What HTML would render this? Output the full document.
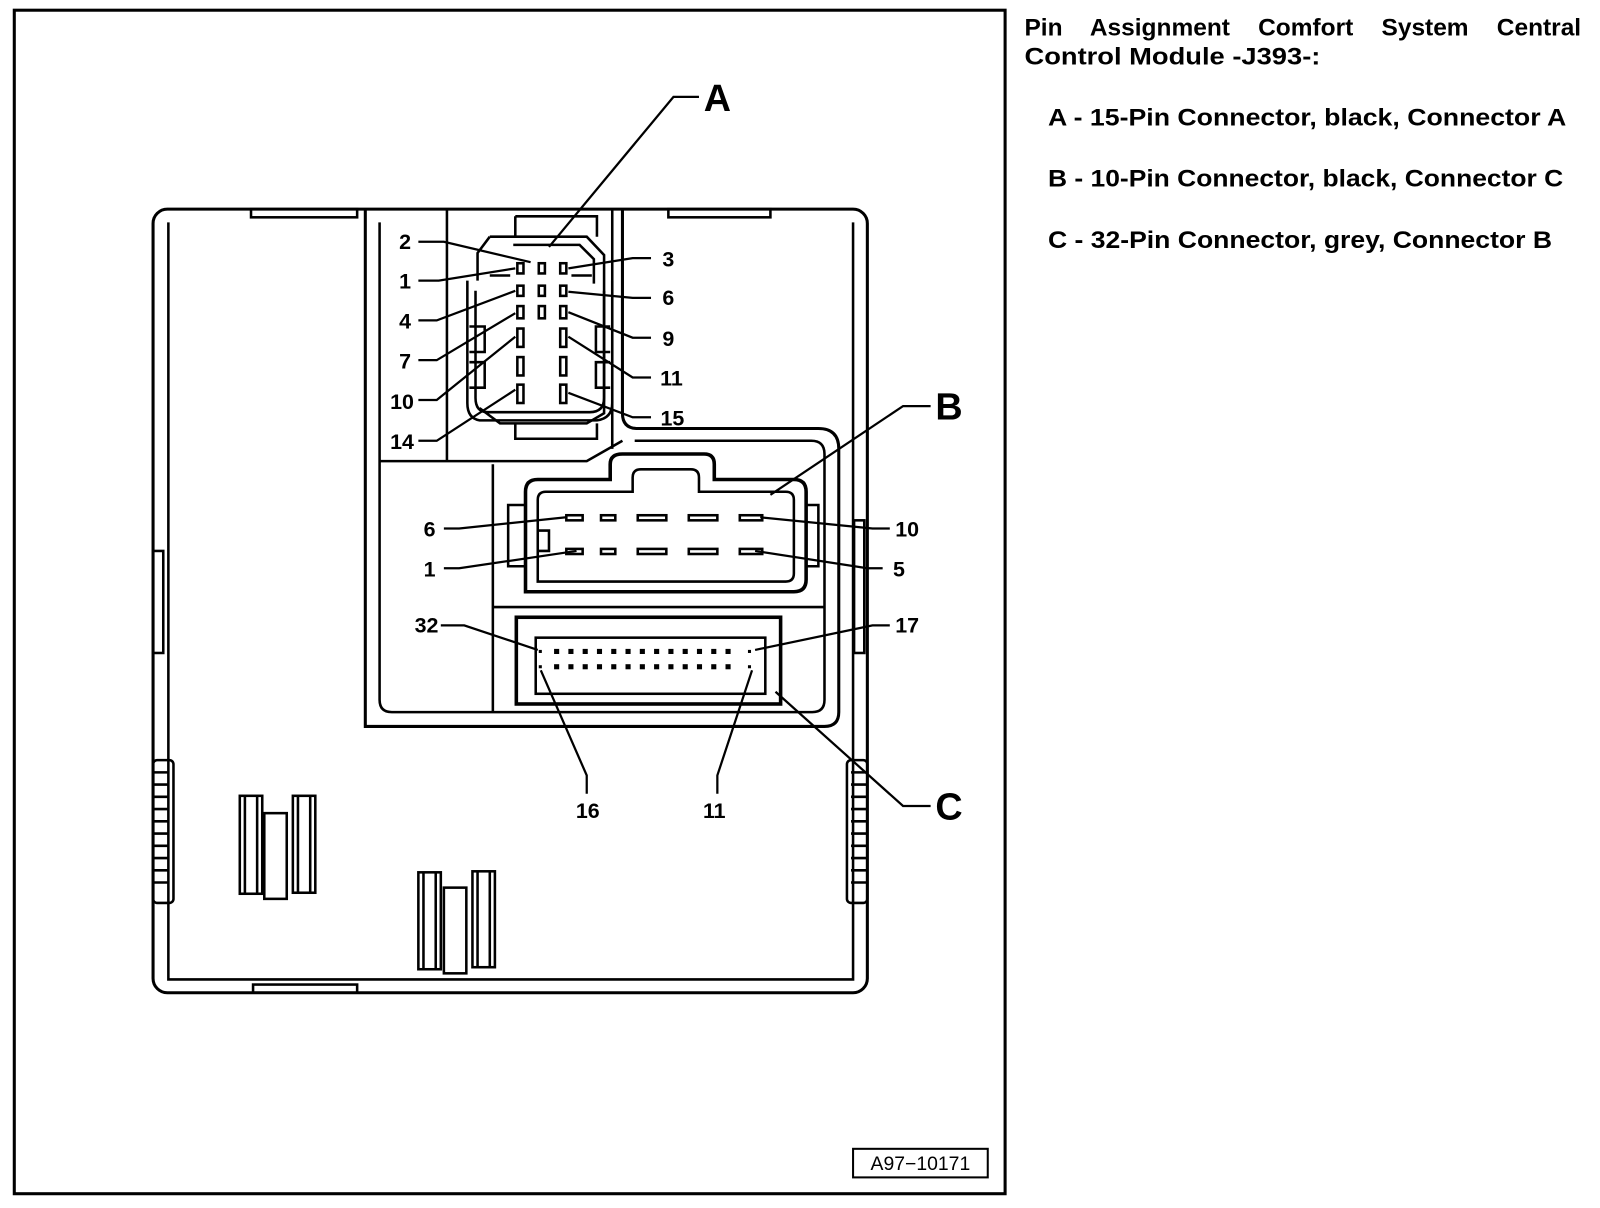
<!DOCTYPE html>
<html><head><meta charset="utf-8"><style>
html,body{margin:0;padding:0;background:#fff;width:1600px;height:1208px;overflow:hidden}
svg{display:block}
text{font-family:"Liberation Sans",sans-serif;font-weight:bold;fill:#000}
</style></head><body>
<svg width="1600" height="1208" viewBox="0 0 1568 1184" preserveAspectRatio="none" xmlns="http://www.w3.org/2000/svg">
<g fill="none" stroke="#000" stroke-width="2.5">
<rect x="14" y="10" width="971" height="1160" stroke-width="3"/>
<rect x="836" y="1126" width="132" height="28" stroke-width="2"/>
<rect x="150" y="205" width="700" height="768" rx="14" stroke-width="3"/>
<path d="M165 218 V960 H836 V218"/>
<rect x="246" y="205" width="104" height="8"/>
<rect x="655" y="205" width="100" height="8"/>
<rect x="248" y="965" width="102" height="8"/>
<rect x="150" y="540" width="10" height="100"/>
<rect x="837" y="510" width="10" height="130"/>
<rect x="150" y="745" width="20" height="140" rx="4"/>
<path d="M150 757H166M150 769H166M150 781H166M150 793H166M150 805H166M150 817H166M150 829H166M150 841H166M150 853H166M150 865H166"/>
<rect x="830" y="745" width="20" height="140" rx="4"/>
<path d="M834 757H850M834 769H850M834 781H850M834 793H850M834 805H850M834 817H850M834 829H850M834 841H850M834 853H850M834 865H850"/>
<rect x="235" y="780" width="22" height="96"/><path d="M240 780V876M252 780V876"/>
<rect x="259" y="797" width="22" height="84"/>
<rect x="287" y="780" width="22" height="95"/><path d="M292 780V875M304 780V875"/>
<rect x="410" y="855" width="22" height="95"/><path d="M415 855V950M427 855V950"/>
<rect x="435" y="870" width="22" height="84"/>
<rect x="463" y="854" width="22" height="94"/><path d="M468 854V948M480 854V948"/>
<path d="M358 205 V712 H808 Q822 712 822 698 V440 Q822 420 802 420 H625 Q610 420 610 405 V205" stroke-width="3"/>
<path d="M372 218 V686 Q372 698 384 698 H796 Q808 698 808 686 V445 Q808 432 795 432 H622"/>
<path d="M438 205 V452 M600 205 V440"/>
<path d="M372 452 H575 L610 432"/>
<path d="M483 455 V698 M483 595 H808"/>
<path d="M505 212 H585 V232 M505 212 V232 M505 415 V430 H585 V415"/>
<path d="M480 232 H575 L592 250 V405 L575 415 H490 L470 400"/>
<path d="M503 240 H568 L582 254 V278 M480 232 L468 248 V275 M468 250V268"/>
<path d="M458 275 V395 Q458 410 470 412 H585 Q600 410 600 395 V275"/>
<path d="M466 285 V390 Q466 404 478 404 H578 Q592 404 592 390 V285"/>
<path d="M460 320 H475 V345 H460 M598 320 H584 V345 H598 M460 355 H475 V380 H460 M598 355 H584 V380 H598"/>
<path d="M480 270 H500 M560 270 H580"/>
<rect x="507" y="258" width="6" height="10"/><rect x="528" y="258" width="6" height="10"/><rect x="549" y="258" width="6" height="10"/>
<rect x="507" y="280" width="6" height="10"/><rect x="528" y="280" width="6" height="10"/><rect x="549" y="280" width="6" height="10"/>
<rect x="507" y="300" width="6" height="12"/><rect x="528" y="300" width="6" height="12"/><rect x="549" y="300" width="6" height="12"/>
<rect x="507" y="322" width="6" height="18"/><rect x="549" y="322" width="6" height="18"/>
<rect x="507" y="350" width="6" height="18"/><rect x="549" y="350" width="6" height="18"/>
<rect x="507" y="377" width="6" height="18"/><rect x="549" y="377" width="6" height="18"/>
<path d="M515 580 V482 Q515 470 527 470 H598 V455 Q598 445 610 445 H690 Q700 445 700 455 V470 H778 Q790 470 790 482 V568 Q790 580 778 580 Z" stroke-width="3.5"/>
<path d="M527 570 V490 Q527 482 535 482 H620 V468 Q620 460 628 460 H677 Q685 460 685 468 V482 H770 Q778 482 778 490 V562 Q778 570 770 570 Z"/>
<path d="M515 495 H498 V555 H515 M790 495 H802 V555 H790 M527 520 H538 V540 H527"/>
<rect x="555" y="505" width="16" height="5"/><rect x="589" y="505" width="14" height="5"/><rect x="625" y="505" width="28" height="5"/><rect x="675" y="505" width="28" height="5"/><rect x="725" y="505" width="22" height="5"/>
<rect x="555" y="538" width="16" height="5"/><rect x="589" y="538" width="14" height="5"/><rect x="625" y="538" width="28" height="5"/><rect x="675" y="538" width="28" height="5"/><rect x="725" y="538" width="22" height="5"/>
<rect x="506" y="605" width="259" height="85" stroke-width="3.5"/>
<rect x="525" y="625" width="225" height="55"/>
</g>
<g fill="#000">
<g id="row">
<rect x="543" y="636" width="5" height="5"/><rect x="557" y="636" width="5" height="5"/><rect x="571" y="636" width="5" height="5"/><rect x="585" y="636" width="5" height="5"/><rect x="599" y="636" width="5" height="5"/><rect x="613" y="636" width="5" height="5"/><rect x="627" y="636" width="5" height="5"/><rect x="641" y="636" width="5" height="5"/><rect x="655" y="636" width="5" height="5"/><rect x="669" y="636" width="5" height="5"/><rect x="683" y="636" width="5" height="5"/><rect x="697" y="636" width="5" height="5"/><rect x="711" y="636" width="5" height="5"/>
</g>
<use href="#row" y="15"/>
<rect x="528" y="637" width="3" height="3"/><rect x="733" y="637" width="3" height="3"/>
<rect x="528" y="652" width="3" height="3"/><rect x="733" y="652" width="3" height="3"/>
</g>
<g fill="none" stroke="#000" stroke-width="2.2">
<path d="M685 95 H660 L538 242"/>
<path d="M410 237 H435 L520 257"/>
<path d="M410 275 H430 L505 263"/>
<path d="M410 314 H428 L505 285"/>
<path d="M410 353 H428 L505 307"/>
<path d="M410 392 H428 L505 330"/>
<path d="M410 432 H428 L505 382"/>
<path d="M638 253 H620 L557 263"/>
<path d="M638 292 H620 L557 286"/>
<path d="M638 331 H620 L557 306"/>
<path d="M638 370 H620 L557 330"/>
<path d="M638 409 H620 L557 385"/>
<path d="M912 398 H885 L755 485"/>
<path d="M435 518 H450 L555 507"/>
<path d="M435 557 H450 L565 540"/>
<path d="M872 518 H855 L745 507"/>
<path d="M865 557 H850 L740 540"/>
<path d="M432 613 H455 L527 637"/>
<path d="M872 613 H855 L740 637"/>
<path d="M575 778 V760 L530 657"/>
<path d="M703 778 V760 L737 657"/>
<path d="M912 790 H885 L760 678"/>
</g>
<g font-size="21">
<text x="397" y="244" text-anchor="middle">2</text>
<text x="397" y="283" text-anchor="middle">1</text>
<text x="397" y="322" text-anchor="middle">4</text>
<text x="397" y="361" text-anchor="middle">7</text>
<text x="394" y="401" text-anchor="middle">10</text>
<text x="394" y="440" text-anchor="middle">14</text>
<text x="655" y="261" text-anchor="middle">3</text>
<text x="655" y="299" text-anchor="middle">6</text>
<text x="655" y="339" text-anchor="middle">9</text>
<text x="658" y="378" text-anchor="middle">11</text>
<text x="659" y="417" text-anchor="middle">15</text>
<text x="421" y="526" text-anchor="middle">6</text>
<text x="421" y="565" text-anchor="middle">1</text>
<text x="889" y="526" text-anchor="middle">10</text>
<text x="881" y="565" text-anchor="middle">5</text>
<text x="418" y="620" text-anchor="middle">32</text>
<text x="889" y="620" text-anchor="middle">17</text>
<text x="576" y="802" text-anchor="middle">16</text>
<text x="700" y="802" text-anchor="middle">11</text>
</g>
<g font-size="37">
<text x="703" y="109" text-anchor="middle">A</text>
<text x="930" y="411" text-anchor="middle">B</text>
<text x="930" y="803" text-anchor="middle">C</text>
</g>
<text x="902" y="1147" font-size="19" text-anchor="middle" style="font-weight:normal">A97−10171</text>
<g font-size="24">
<text x="1004" y="35" word-spacing="21">Pin Assignment Comfort System Central</text>
<text x="1004" y="63" textLength="290" lengthAdjust="spacingAndGlyphs">Control Module -J393-:</text>
<text x="1027" y="123" textLength="508" lengthAdjust="spacingAndGlyphs">A - 15-Pin Connector, black, Connector A</text>
<text x="1027" y="183" textLength="505" lengthAdjust="spacingAndGlyphs">B - 10-Pin Connector, black, Connector C</text>
<text x="1027" y="243" textLength="494" lengthAdjust="spacingAndGlyphs">C - 32-Pin Connector, grey, Connector B</text>
</g>
</svg>
</body></html>
